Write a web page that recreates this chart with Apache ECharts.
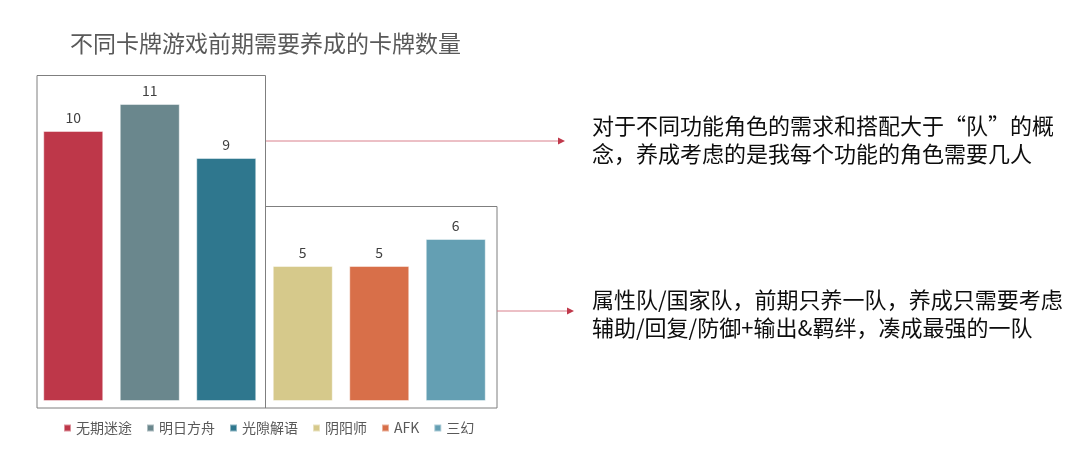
<!DOCTYPE html>
<html>
<head>
<meta charset="utf-8">
<script src="https://cdn.jsdelivr.net/npm/echarts@6/dist/echarts.min.js"></script>
<style>
  html, body { margin: 0; padding: 0; background: #fff; }
  #chart { width: 1080px; height: 452px; }
</style>
</head>
<body>
<div id="chart"></div>
<script>
var games = ['无期迷途', '明日方舟', '光隙解语', '阴阳师', 'AFK', '三幻'];
var counts = [10, 11, 9, 5, 5, 6];
var colors = ['#BE3749', '#6A878D', '#2F778E', '#D6C98B', '#D86F49', '#649FB3'];
var titleText = '不同卡牌游戏前期需要养成的卡牌数量';
var noteTop = '对于不同功能角色的需求和搭配大于“队”的概\n念，养成考虑的是我每个功能的角色需要几人';
var noteBottom = '属性队/国家队，前期只养一队，养成只需要考虑\n辅助/回复/防御+输出&羁绊，凑成最强的一队';

var font = '"Noto Sans CJK SC", "Noto Sans", sans-serif';

// one series per game so the legend lists each one; stacked so they share a slot
var series = games.map(function (name, i) {
    var data = games.map(function (g, j) { return j === i ? counts[i] : '-'; });
    return {
        name: name,
        type: 'bar',
        stack: 'all',
        barWidth: 60,
        itemStyle: {
            color: colors[i],
            borderColor: 'rgba(255,255,255,0.45)',
            borderWidth: 1
        },
        label: {
            show: true,
            position: 'top',
            distance: 6,
            color: '#404040',
            fontSize: 14,
            fontFamily: font
        },
        data: data
    };
});

var lineColor = '#7F7F7F';
var arrowColor = '#D9808C';
var headColor = '#C0394B';

var arrow = function (x1, x2, y) {
    return [
        {
            type: 'line',
            shape: { x1: x1, y1: y, x2: x2 - 6, y2: y },
            style: { stroke: arrowColor, lineWidth: 1 }
        },
        {
            type: 'polygon',
            shape: { points: [[x2 - 7, y - 3.5], [x2, y], [x2 - 7, y + 3.5]] },
            style: { fill: headColor }
        }
    ];
};

var graphics = [
    {
        type: 'polyline',
        shape: { points: [[37, 408], [37, 75.5], [265.5, 75.5], [265.5, 408]] },
        style: { stroke: lineColor, lineWidth: 1, fill: null }
    },
    {
        type: 'polyline',
        shape: { points: [[265.5, 206.5], [497, 206.5], [497, 408], [37, 408]] },
        style: { stroke: lineColor, lineWidth: 1, fill: null }
    },
    {
        type: 'text',
        left: 592,
        top: 112,
        style: {
            text: noteTop,
            fill: '#0D0D0D',
            font: '22px ' + font,
            lineHeight: 28
        }
    },
    {
        type: 'text',
        left: 592,
        top: 286,
        style: {
            text: noteBottom,
            fill: '#0D0D0D',
            font: '22px ' + font,
            lineHeight: 28
        }
    }
].concat(arrow(266, 565, 141)).concat(arrow(497, 574, 311));

var myChart = echarts.init(document.getElementById('chart'));
myChart.setOption({
    animation: false,
    title: {
        text: titleText,
        left: 70,
        top: 32,
        padding: 0,
        textStyle: {
            color: '#595959',
            fontSize: 23,
            fontWeight: 'normal',
            fontFamily: font
        }
    },
    legend: {
        left: 58,
        top: 416,
        icon: 'rect',
        itemWidth: 7,
        itemHeight: 7,
        itemGap: 14,
        textStyle: {
            color: '#595959',
            fontSize: 14,
            fontFamily: font
        },
        data: games
    },
    grid: {
        left: 35,
        right: 586,
        top: 77,
        bottom: 51
    },
    xAxis: {
        type: 'category',
        data: games,
        show: false
    },
    yAxis: {
        type: 'value',
        min: 0,
        max: 12,
        show: false
    },
    graphic: graphics,
    series: series
});
</script>
</body>
</html>
